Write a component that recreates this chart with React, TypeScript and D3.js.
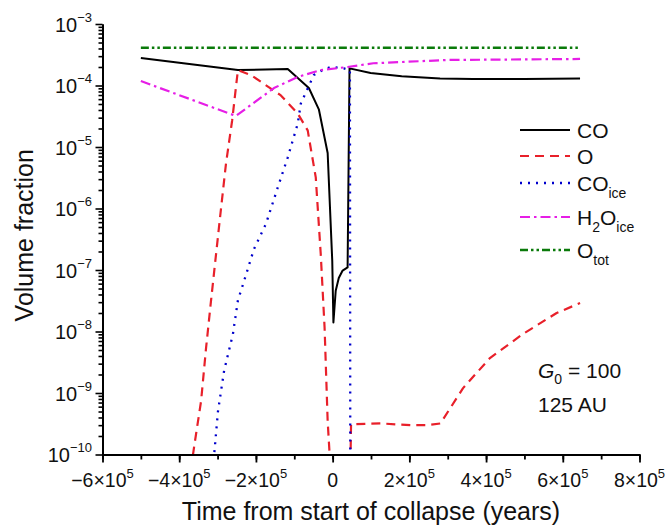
import { useEffect, useRef } from "react";
import * as d3 from "d3";

// time (years) and volume fractions
const T_CO = [-5e5, -2.47e5, -1.17e5, -0.62e5, -0.36e5, -0.13e5, -0.01e5, 0.02e5, 0.08e5, 0.16e5, 0.26e5, 0.39e5, 0.44e5, 0.99e5, 1.8e5, 2.8e5, 3.66e5, 5e5, 6.45e5];
const V_CO = [2.8e-4, 1.78e-4, 1.85e-4, 9.1e-5, 4.1e-5, 8e-6, 1.4e-7, 1.4e-8, 4.6e-8, 7.4e-8, 9.8e-8, 1.1e-7, 1.9e-4, 1.6e-4, 1.42e-4, 1.3e-4, 1.27e-4, 1.28e-4, 1.3e-4];

const T_O = [-3.7e5, -3.61e5, -3.43e5, -3.3e5, -3.17e5, -3.04e5, -2.91e5, -2.78e5, -2.62e5, -2.47e5, -2.13e5, -1.35e5, -0.91e5, -0.65e5, -0.44e5, -0.31e5, -0.21e5, -0.13e5, -0.05e5, 0.46e5, 0.48e5, 1.25e5, 2.03e5, 2.47e5, 2.81e5, 3.4e5, 4.1e5, 4.96e5, 5.84e5, 6.45e5];
const V_O = [5.5e-11, 1.35e-10, 7.4e-10, 5.4e-9, 3.2e-8, 1.8e-7, 1.0e-6, 5.4e-6, 2.7e-5, 1.78e-4, 1.48e-4, 6.9e-5, 3.5e-5, 1.86e-5, 3.2e-6, 1.8e-7, 1.15e-8, 3.5e-10, 5e-11, 5e-11, 3.1e-10, 3.2e-10, 3.0e-10, 3.0e-10, 3.2e-10, 1.2e-9, 3.7e-9, 9.1e-9, 2.0e-8, 2.9e-8];

const T_COICE = [-3.12e5, -2.99e5, -2.83e5, -2.6e5, -2.47e5, -2.31e5, -2.05e5, -1.74e5, -1.43e5, -1.17e5, -0.91e5, -0.83e5, -0.49e5, -0.26e5, -0.05e5, 0.29e5, 0.45e5, 0.46e5];
const V_COICE = [6e-11, 5e-10, 2.3e-9, 9.1e-9, 3.2e-8, 6.6e-8, 2.2e-7, 5.6e-7, 2.2e-6, 6.8e-6, 2.4e-5, 5.1e-5, 1.48e-4, 1.78e-4, 2.0e-4, 1.9e-4, 1.78e-4, 5e-11];

const T_H2O = [-5e5, -2.52e5, -1.53e5, -0.91e5, -0.31e5, 0.39e5, 1.06e5, 2.99e5, 6.45e5];
const V_H2O = [1.18e-4, 3.2e-5, 9.1e-5, 1.38e-4, 1.78e-4, 2.0e-4, 2.3e-4, 2.6e-4, 2.7e-4];

const T_OTOT = [-5e5, 6.45e5];
const V_OTOT = [4.1e-4, 4.1e-4];

const X_TICKS = [-6, -4, -2, 0, 2, 4, 6, 8]; // x 10^5
const Y_EXPONENTS = [-3, -4, -5, -6, -7, -8, -9, -10];

type Series = {
  t: number[];
  v: number[];
  color: string;
  dash: string;
  width: number;
  label: string;
  sub?: string;
  pre?: string;
};

const SERIES: Series[] = [
  { t: T_CO, v: V_CO, color: "#000000", dash: "", width: 2, label: "CO" },
  { t: T_O, v: V_O, color: "#e8202a", dash: "9 6", width: 2.2, label: "O" },
  { t: T_COICE, v: V_COICE, color: "#0000cc", dash: "2 6", width: 2.3, label: "CO", sub: "ice" },
  { t: T_H2O, v: V_H2O, color: "#e61ee6", dash: "10 4 2.5 4", width: 2.2, label: "H", pre: "2", sub: "ice" },
  { t: T_OTOT, v: V_OTOT, color: "#0a7a0a", dash: "8 3 2.5 3 2.5 3", width: 2.5, label: "O", sub: "tot" },
];

const FONT = "'Liberation Sans', Arial, sans-serif";

export default function App() {
  const ref = useRef<SVGSVGElement>(null);

  useEffect(() => {
    if (!ref.current) return;
    const svg = d3.select(ref.current);
    svg.selectAll("*").remove();

    const left = 102.5;
    const right = 639.5;
    const top = 24;
    const bottom = 454.5;

    const x = d3.scaleLinear().domain([-6e5, 8e5]).range([left, right]);
    const y = d3.scaleLog().domain([1e-10, 1e-3]).range([bottom, top]);

    svg
      .append("defs")
      .append("clipPath")
      .attr("id", "plot-clip")
      .append("rect")
      .attr("x", left)
      .attr("y", top)
      .attr("width", right - left)
      .attr("height", bottom - top);

    // series lines
    const plot = svg.append("g").attr("clip-path", "url(#plot-clip)");
    const line = d3
      .line<[number, number]>()
      .x((d) => x(d[0]))
      .y((d) => y(d[1]));

    SERIES.forEach((s) => {
      const pts = s.t.map((t, i) => [t, s.v[i]] as [number, number]);
      plot
        .append("path")
        .datum(pts)
        .attr("fill", "none")
        .attr("stroke", s.color)
        .attr("stroke-width", s.width)
        .attr("stroke-dasharray", s.dash || null)
        .attr("stroke-linejoin", "round")
        .attr("d", line);
    });

    // x axis
    const xMinor = d3.range(-6, 8.5, 1).map((k) => k * 1e5);
    const xAxisG = svg.append("g").attr("transform", `translate(0,${bottom})`);
    xAxisG
      .append("g")
      .call(d3.axisBottom(x).tickValues(xMinor).tickSize(5).tickSizeOuter(0).tickFormat(() => ""));
    xAxisG
      .append("g")
      .call(d3.axisBottom(x).tickValues(X_TICKS.map((k) => k * 1e5)).tickSize(8).tickSizeOuter(0).tickFormat(() => ""));
    xAxisG.selectAll("path.domain").attr("stroke-width", 2);
    xAxisG.selectAll(".tick line").attr("stroke-width", 1.8);

    X_TICKS.forEach((k) => {
      const txt = svg
        .append("text")
        .attr("x", x(k * 1e5))
        .attr("y", 487)
        .attr("text-anchor", "middle")
        .attr("font-family", FONT)
        .attr("font-size", 19.5)
        .attr("fill", "#111");
      if (k === 0) {
        txt.text("0");
      } else {
        txt.append("tspan").text(`${k < 0 ? "\u2212" : ""}${Math.abs(k)}\u00d710`);
        txt.append("tspan").attr("dy", -9).attr("font-size", 13).text("5");
      }
    });

    // y axis
    const yMinor: number[] = [];
    for (let e = -10; e < -3; e++) {
      for (let m = 2; m <= 9; m++) yMinor.push(m * Math.pow(10, e));
    }
    const yAxisG = svg.append("g").attr("transform", `translate(${left},0)`);
    yAxisG
      .append("g")
      .call(d3.axisLeft(y).tickValues(yMinor).tickSize(4).tickSizeOuter(0).tickFormat(() => ""));
    yAxisG
      .append("g")
      .call(d3.axisLeft(y).tickValues(Y_EXPONENTS.map((e) => Math.pow(10, e))).tickSize(7).tickSizeOuter(0).tickFormat(() => ""));
    yAxisG.selectAll("path.domain").attr("stroke-width", 2);
    yAxisG.selectAll(".tick line").attr("stroke-width", 1.6);

    Y_EXPONENTS.forEach((e) => {
      const txt = svg
        .append("text")
        .attr("x", 92)
        .attr("y", y(Math.pow(10, e)) + 7.5)
        .attr("text-anchor", "end")
        .attr("font-family", FONT)
        .attr("font-size", 20)
        .attr("fill", "#111");
      txt.append("tspan").text("10");
      txt.append("tspan").attr("dy", -10).attr("font-size", 13).text(`\u2212${Math.abs(e)}`);
    });

    // axis titles
    svg
      .append("text")
      .attr("x", (left + right) / 2)
      .attr("y", 520)
      .attr("text-anchor", "middle")
      .attr("font-family", FONT)
      .attr("font-size", 25)
      .attr("fill", "#111")
      .text("Time from start of collapse (years)");

    svg
      .append("text")
      .attr("transform", `translate(33,${(top + bottom) / 2 - 4}) rotate(-90)`)
      .attr("text-anchor", "middle")
      .attr("font-family", FONT)
      .attr("font-size", 25)
      .attr("fill", "#111")
      .text("Volume fraction");

    // legend
    const legendRows = [130, 156, 183, 217, 250];
    SERIES.forEach((s, i) => {
      const ly = legendRows[i];
      svg
        .append("line")
        .attr("x1", 520)
        .attr("x2", 570)
        .attr("y1", ly)
        .attr("y2", ly)
        .attr("stroke", s.color)
        .attr("stroke-width", s.width)
        .attr("stroke-dasharray", s.dash || null);
      const txt = svg
        .append("text")
        .attr("x", 577)
        .attr("y", ly + 7.5)
        .attr("font-family", FONT)
        .attr("font-size", 21)
        .attr("fill", "#111");
      txt.append("tspan").text(s.label);
      if (s.pre) {
        txt.append("tspan").attr("dy", 7).attr("font-size", 14).text(s.pre);
        txt.append("tspan").attr("dy", -7).text("O");
      }
      if (s.sub) {
        txt.append("tspan").attr("dy", 7).attr("font-size", 14).text(s.sub);
      }
    });

    // annotation
    const ann = svg
      .append("text")
      .attr("x", 538)
      .attr("y", 378)
      .attr("font-family", FONT)
      .attr("font-size", 21)
      .attr("fill", "#111");
    ann.append("tspan").attr("font-style", "italic").text("G");
    ann.append("tspan").attr("dy", 6).attr("font-size", 14).text("0");
    ann.append("tspan").attr("dy", -6).text(" = 100");
    svg
      .append("text")
      .attr("x", 538)
      .attr("y", 412)
      .attr("font-family", FONT)
      .attr("font-size", 21)
      .attr("fill", "#111")
      .text("125 AU");
  }, []);

  return (
    <svg
      ref={ref}
      width={668}
      height={528}
      style={{ position: "absolute", left: 0, top: 0, background: "#fff" }}
    />
  );
}
